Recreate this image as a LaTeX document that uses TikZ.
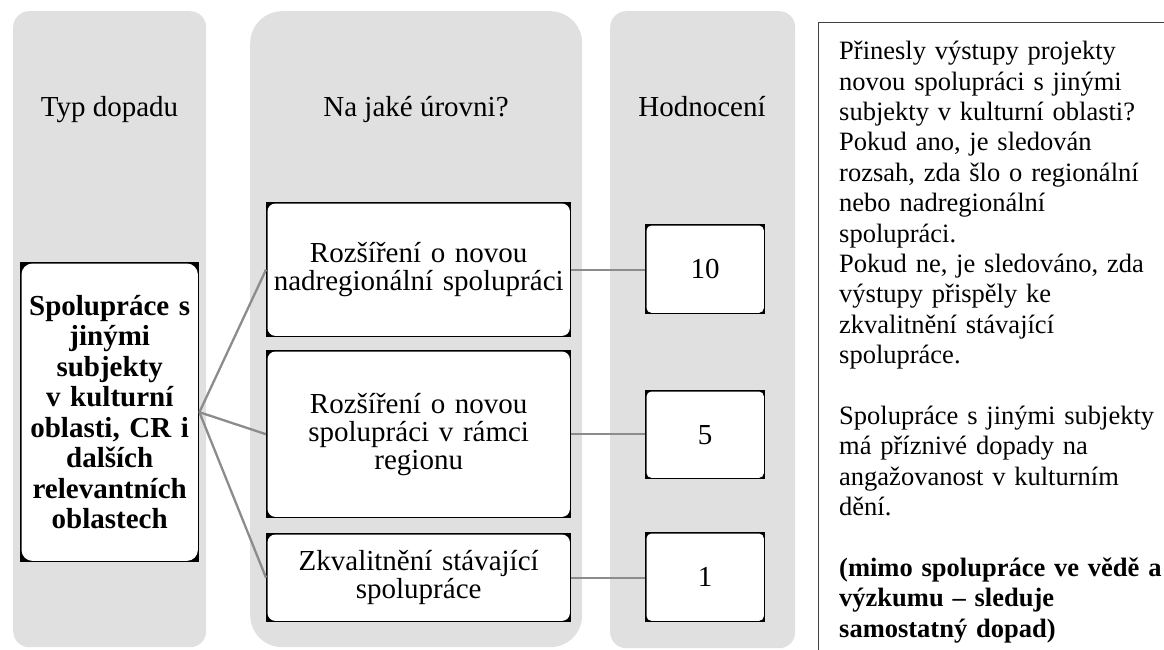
\documentclass[tikz,border=0pt]{standalone}
\usepackage{fontspec}
\setmainfont{Liberation Serif}
\definecolor{colbg}{HTML}{E0E0E0}
\definecolor{linkgray}{HTML}{8C8C8C}
\definecolor{framegray}{HTML}{404040}
\tikzset{
  column/.style={fill=colbg, draw=none, anchor=north west, inner sep=0pt, rounded corners=#1},
  column/.default=16pt,
  head/.style={anchor=base, inner sep=0pt, font=\fontsize{29}{28}\selectfont},
  card/.style={fill=black, draw=none, anchor=north west, inner sep=0pt, align=center,
    font=\fontsize{29}{28}\selectfont,
    path picture={\fill[white, rounded corners=#1]
      ([shift={(1.3pt,-1.3pt)}]path picture bounding box.north west) rectangle
      ([shift={(-1.3pt,1.3pt)}]path picture bounding box.south east);}},
  card/.default=7pt,
  link/.style={draw=linkgray, line width=2.3pt},
}
\begin{document}
\begin{tikzpicture}[x=1pt,y=-1pt]
\useasboundingbox (0,0) rectangle (1164,650);
\clip (0,0) rectangle (1164,650);
% columns
\node[column, minimum width=193pt, minimum height=636pt] (c1) at (13,11) {};
\node[column=32pt, minimum width=332pt, minimum height=636pt] (c2) at (250,11) {};
\node[column, minimum width=185pt, minimum height=637pt] (c3) at (610,11) {};
% headers
\node[head] (h1) at (109.5,117) {Typ dopadu};
\node[head] (h2) at (416,117) {Na jaké úrovni?};
\node[head] (h3) at (702,117) {Hodnocení};
% left box
\node[card=11pt, minimum width=179pt, minimum height=300pt, text width=175pt,
      font=\fontsize{29}{30.5}\selectfont\bfseries] (imp) at (20,262)
  {Spolupráce s\\ jinými\\ subjekty\\ v~kulturní\\ oblasti, CR i\\ dalších\\ relevantních\\ oblastech};
% middle boxes
\node[card=8pt, minimum width=305pt, minimum height=135pt, text width=300pt] (m1) at (266,202)
  {Rozšíření o novou\\ nadregionální spolupráci};
\node[card=8pt, minimum width=305pt, minimum height=168pt, text width=300pt] (m2) at (266,350)
  {Rozšíření o novou\\ spolupráci v rámci\\ regionu};
\node[card=8pt, minimum width=305pt, minimum height=89pt, text width=300pt] (m3) at (266,533)
  {Zkvalitnění stávající\\ spolupráce};
% score boxes
\node[card=5pt, minimum width=120pt, minimum height=90pt] (n1) at (645,224) {10};
\node[card=5pt, minimum width=120pt, minimum height=89pt] (n2) at (645,390) {5};
\node[card=5pt, minimum width=120pt, minimum height=90pt] (n3) at (645,532) {1};
% connectors
\draw[link] (imp.east) -- (m1.west);
\draw[link] (imp.east) -- (m2.west);
\draw[link] (imp.east) -- (m3.west);
\draw[link] (m1.east) -- (m1.east -| n1.west);
\draw[link] (m2.east) -- (m2.east -| n2.west);
\draw[link] (m3.east) -- (m3.east -| n3.west);
% note box
\node[draw=framegray, line width=1.3pt, anchor=north west, inner sep=0pt,
      minimum width=370pt, minimum height=660pt] (note) at (818,22) {};
\node[anchor=north west, inner sep=0pt, text width=335pt, align=left,
      font=\fontsize{26.5}{30.4}\selectfont] (notetext) at (839,41)
  {Přinesly výstupy projekty\\
   novou spolupráci s~jinými\\
   subjekty v~kulturní oblasti?\\
   Pokud ano, je sledován\\
   rozsah, zda šlo o~regionální\\
   nebo nadregionální\\
   spolupráci.\\
   Pokud ne, je sledováno, zda\\
   výstupy přispěly ke\\
   zkvalitnění stávající\\
   spolupráce.\\[30.4pt]
   Spolupráce s~jinými subjekty\\
   má příznivé dopady na\\
   angažovanost v~kulturním\\
   dění.\\[30.4pt]
   \textbf{(mimo spolupráce ve vědě a}\\
   \textbf{výzkumu – sleduje}\\
   \textbf{samostatný dopad)}};
\end{tikzpicture}
\end{document}
